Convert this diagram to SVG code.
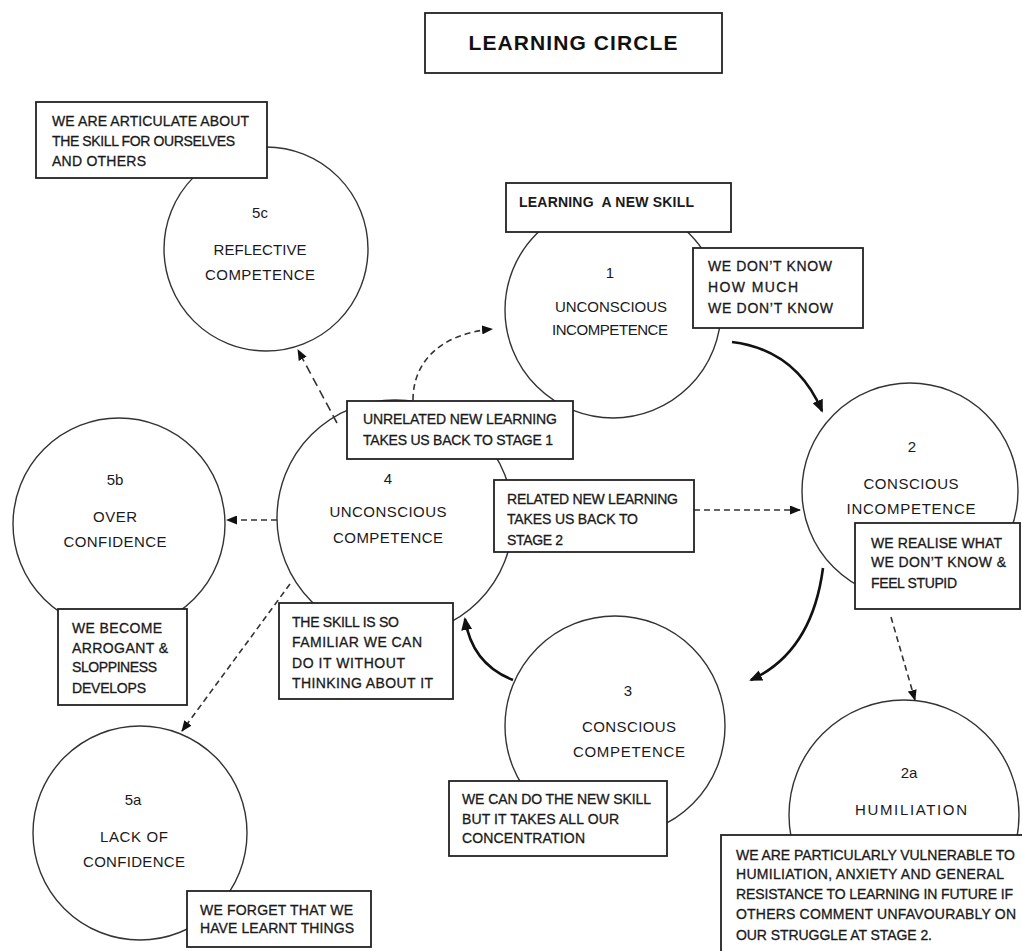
<svg xmlns="http://www.w3.org/2000/svg" width="1022" height="951" viewBox="0 0 1022 951">
<style>
  .bg { fill: #ffffff; }
  .circ { fill: #ffffff; stroke: #333333; stroke-width: 1.4; }
  .box { fill: #ffffff; stroke: #222222; stroke-width: 1.8; }
  .lbl { font-family: "Liberation Sans", Arial, sans-serif; font-size: 15px; fill: #1a1a1a; text-anchor: middle; }
  .num { font-family: "Liberation Sans", Arial, sans-serif; font-size: 15px; fill: #1a1a1a; text-anchor: middle; }
  .note { font-family: "Liberation Sans", Arial, sans-serif; font-size: 14px; fill: #1a1a1a; stroke: #1a1a1a; stroke-width: 0.3; }
  .title { font-family: "Liberation Sans", Arial, sans-serif; font-size: 21px; font-weight: bold; fill: #111111; text-anchor: middle; }
  .bold { font-weight: bold; stroke-width: 0; }
  .dash { fill: none; stroke: #333333; stroke-width: 1.6; stroke-dasharray: 6 4; }
  .dashl { fill: none; stroke: #333333; stroke-width: 1.6; stroke-dasharray: 9 5; }
  .solid { fill: none; stroke: #111111; stroke-width: 2.6; }
</style>
<defs>
  <marker id="ah" markerUnits="userSpaceOnUse" markerWidth="11" markerHeight="9" refX="10" refY="4.5" orient="auto">
    <path d="M0,0 L11,4.5 L0,9 z" fill="#111111"/>
  </marker>
  <marker id="ahb" markerUnits="userSpaceOnUse" markerWidth="13" markerHeight="11" refX="11" refY="5.5" orient="auto">
    <path d="M0,0 L13,5.5 L0,11 z" fill="#111111"/>
  </marker>
</defs>
<rect class="bg" x="0" y="0" width="1022" height="951"/>

<g id="title">
  <rect class="box" x="425" y="13" width="297" height="60"/>
  <text class="title" x="573" y="50" textLength="209">LEARNING CIRCLE</text>
</g>

<g id="node-5c">
  <circle class="circ" cx="266" cy="249" r="102"/>
  <text class="num" x="260" y="218">5c</text>
  <text class="lbl" x="260" y="255" textLength="93">REFLECTIVE</text>
  <text class="lbl" x="260" y="280" textLength="110">COMPETENCE</text>
</g>

<g id="node-1">
  <circle class="circ" cx="613" cy="310" r="108"/>
  <text class="num" x="610" y="278">1</text>
  <text class="lbl" x="611" y="312" textLength="112">UNCONSCIOUS</text>
  <text class="lbl" x="610" y="335" textLength="116">INCOMPETENCE</text>
</g>

<g id="node-2">
  <circle class="circ" cx="910" cy="491" r="108"/>
  <text class="num" x="912" y="452">2</text>
  <text class="lbl" x="911" y="489" textLength="95">CONSCIOUS</text>
  <text class="lbl" x="911" y="514" textLength="129">INCOMPETENCE</text>
</g>

<g id="node-2a">
  <circle class="circ" cx="904" cy="815" r="115"/>
  <text class="num" x="909" y="778">2a</text>
  <text class="lbl" x="911" y="815" textLength="112">HUMILIATION</text>
</g>

<g id="node-3">
  <circle class="circ" cx="615" cy="726" r="110"/>
  <text class="num" x="628" y="696">3</text>
  <text class="lbl" x="629" y="732" textLength="94">CONSCIOUS</text>
  <text class="lbl" x="629" y="757" textLength="112">COMPETENCE</text>
</g>

<g id="node-4">
  <circle class="circ" cx="395" cy="518" r="118"/>
  <text class="num" x="388" y="484">4</text>
  <text class="lbl" x="388" y="517" textLength="117">UNCONSCIOUS</text>
  <text class="lbl" x="388" y="543" textLength="110">COMPETENCE</text>
</g>

<g id="node-5b">
  <circle class="circ" cx="119" cy="524" r="106"/>
  <text class="num" x="115" y="485">5b</text>
  <text class="lbl" x="115" y="522" textLength="44">OVER</text>
  <text class="lbl" x="115" y="547" textLength="103">CONFIDENCE</text>
</g>

<g id="node-5a">
  <circle class="circ" cx="140" cy="833" r="107"/>
  <text class="num" x="133" y="805">5a</text>
  <text class="lbl" x="134" y="842" textLength="68">LACK OF</text>
  <text class="lbl" x="134" y="867" textLength="102">CONFIDENCE</text>
</g>

<g id="connectors">
  <path class="dash" d="M413,400 C413,362 440,334 492,329" marker-end="url(#ah)"/>
  <path class="solid" d="M732,342 Q796,350 822,411" marker-end="url(#ahb)"/>
  <path class="dash" d="M694,510 L800,510" marker-end="url(#ah)"/>
  <path class="solid" d="M823,568 Q812,652 751,680" marker-end="url(#ahb)"/>
  <path class="dash" d="M891,617 L915,700" marker-end="url(#ah)"/>
  <path class="solid" d="M513,680 Q472,664 465,619" marker-end="url(#ahb)"/>
  <path class="dashl" d="M337,423 L298,350" marker-end="url(#ah)"/>
  <path class="dash" d="M277,520 L227,520" marker-end="url(#ah)"/>
  <path class="dash" d="M290,584 L182,731" marker-end="url(#ah)"/>
</g>

<g id="note-5c">
  <rect class="box" x="36" y="102" width="231" height="76"/>
  <text class="note" x="52" y="126" textLength="197">WE ARE ARTICULATE ABOUT</text>
  <text class="note" x="52" y="146" textLength="183">THE SKILL FOR OURSELVES</text>
  <text class="note" x="52" y="166" textLength="94">AND OTHERS</text>
</g>

<g id="note-new-skill">
  <rect class="box" x="506" y="183" width="225" height="49"/>
  <text class="note bold" x="519" y="207" textLength="175" xml:space="preserve">LEARNING  A NEW SKILL</text>
</g>

<g id="note-1">
  <rect class="box" x="693" y="248" width="170" height="80"/>
  <text class="note" x="708" y="271" textLength="124">WE DON’T KNOW</text>
  <text class="note" x="708" y="292" textLength="90">HOW MUCH</text>
  <text class="note" x="708" y="313" textLength="125">WE DON’T KNOW</text>
</g>

<g id="note-unrelated">
  <rect class="box" x="347" y="401" width="226" height="58"/>
  <text class="note" x="363" y="424" textLength="194">UNRELATED NEW LEARNING</text>
  <text class="note" x="363" y="445" textLength="190">TAKES US BACK TO STAGE 1</text>
</g>

<g id="note-related">
  <rect class="box" x="494" y="480" width="200" height="72"/>
  <text class="note" x="507" y="504" textLength="171">RELATED NEW LEARNING</text>
  <text class="note" x="507" y="524" textLength="131">TAKES US BACK TO</text>
  <text class="note" x="507" y="545" textLength="56">STAGE 2</text>
</g>

<g id="note-2">
  <rect class="box" x="855" y="523" width="165" height="86"/>
  <text class="note" x="871" y="548" textLength="131">WE REALISE WHAT</text>
  <text class="note" x="871" y="567" textLength="135">WE DON’T KNOW &amp;</text>
  <text class="note" x="871" y="588" textLength="86">FEEL STUPID</text>
</g>

<g id="note-5b">
  <rect class="box" x="58" y="609" width="129" height="96"/>
  <text class="note" x="72" y="633" textLength="90">WE BECOME</text>
  <text class="note" x="72" y="653" textLength="96">ARROGANT &amp;</text>
  <text class="note" x="72" y="672" textLength="85">SLOPPINESS</text>
  <text class="note" x="72" y="693" textLength="74">DEVELOPS</text>
</g>

<g id="note-4">
  <rect class="box" x="279" y="603" width="174" height="96"/>
  <text class="note" x="292" y="627" textLength="107">THE SKILL IS SO</text>
  <text class="note" x="292" y="647" textLength="130">FAMILIAR WE CAN</text>
  <text class="note" x="292" y="668" textLength="113">DO IT WITHOUT</text>
  <text class="note" x="292" y="688" textLength="141">THINKING ABOUT IT</text>
</g>

<g id="note-3">
  <rect class="box" x="449" y="781" width="218" height="75"/>
  <text class="note" x="462" y="804" textLength="189">WE CAN DO THE NEW SKILL</text>
  <text class="note" x="462" y="824" textLength="157">BUT IT TAKES ALL OUR</text>
  <text class="note" x="462" y="843" textLength="123">CONCENTRATION</text>
</g>

<g id="note-2a">
  <rect class="box" x="721" y="835" width="320" height="140"/>
  <text class="note" x="736" y="860" textLength="279">WE ARE PARTICULARLY VULNERABLE TO</text>
  <text class="note" x="736" y="879" textLength="268">HUMILIATION, ANXIETY AND GENERAL</text>
  <text class="note" x="736" y="899" textLength="277">RESISTANCE TO LEARNING IN FUTURE IF</text>
  <text class="note" x="736" y="919" textLength="280">OTHERS COMMENT UNFAVOURABLY ON</text>
  <text class="note" x="736" y="940" textLength="196">OUR STRUGGLE AT STAGE 2.</text>
</g>

<g id="note-5a">
  <rect class="box" x="187" y="891" width="184" height="56"/>
  <text class="note" x="200" y="915" textLength="153">WE FORGET THAT WE</text>
  <text class="note" x="200" y="933" textLength="154">HAVE LEARNT THINGS</text>
</g>
</svg>
